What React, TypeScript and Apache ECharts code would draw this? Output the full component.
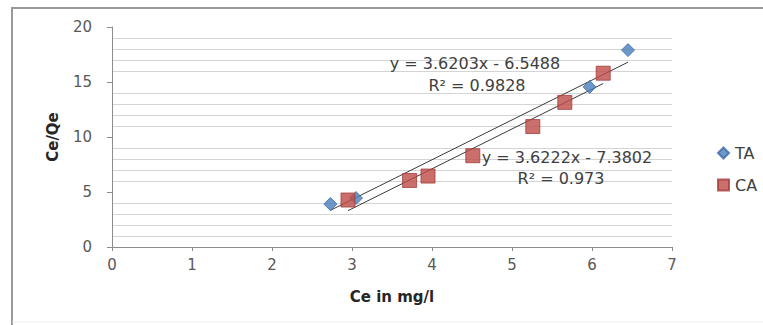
import React, { useEffect, useRef } from "react";
import * as echarts from "echarts";

// Ce (mg/l) and Ce/Qe for the two adsorbents
const taCe = [2.73, 3.05, 5.97, 6.45];
const taCeQe = [3.9, 4.45, 14.55, 17.9];
const caCe = [2.95, 3.72, 3.95, 4.51, 5.26, 5.66, 6.14];
const caCeQe = [4.27, 6.05, 6.45, 8.3, 10.95, 13.15, 15.8];

// Linear fits (slope, intercept, R²)
const taFit = { slope: 3.6203, intercept: -6.5488, r2: "0.9828" };
const caFit = { slope: 3.6222, intercept: -7.3802, r2: "0.973" };

const xTicks = [0, 1, 2, 3, 4, 5, 6, 7];
const yTicks = [0, 5, 10, 15, 20];

const FONT = "DejaVu Sans";

function fitLine(xs: number[], fit: { slope: number; intercept: number }) {
  const lo = Math.min(...xs);
  const hi = Math.max(...xs);
  return [lo, hi].map((x) => [x, fit.slope * x + fit.intercept]);
}

function fmtEq(fit: { slope: number; intercept: number }) {
  const sign = fit.intercept < 0 ? "-" : "+";
  return `y = ${fit.slope.toFixed(4)}x ${sign} ${Math.abs(fit.intercept).toFixed(4)}`;
}

export default function App() {
  const ref = useRef<HTMLDivElement>(null);

  useEffect(() => {
    if (!ref.current) return;
    const chart = echarts.init(ref.current, undefined, { renderer: "svg" });

    const eqText = (text: string, x: number, y: number) => ({
      type: "text",
      x,
      y,
      z: 1,
      style: {
        text,
        fill: "#404040",
        font: `16px "${FONT}"`,
        align: "center",
        verticalAlign: "middle",
      },
    });

    chart.setOption({
      animation: false,
      backgroundColor: "#ffffff",
      grid: { left: 112, top: 27, right: 91, bottom: 78 },
      xAxis: {
        type: "value",
        min: xTicks[0],
        max: xTicks[xTicks.length - 1],
        interval: 1,
        name: "Ce in mg/l",
        nameLocation: "middle",
        nameGap: 42,
        nameTextStyle: { fontFamily: FONT, fontSize: 15, fontWeight: "bold", color: "#262626" },
        axisLine: { show: true, onZero: false, lineStyle: { color: "#8c8c8c", width: 1 } },
        axisTick: { show: true, length: 4, lineStyle: { color: "#8c8c8c" } },
        axisLabel: { fontFamily: FONT, fontSize: 15, color: "#595959", margin: 10 },
        splitLine: { show: false },
      },
      yAxis: {
        type: "value",
        min: yTicks[0],
        max: yTicks[yTicks.length - 1],
        interval: 5,
        name: "Ce/Qe",
        nameLocation: "middle",
        nameGap: 52,
        nameRotate: 90,
        nameTextStyle: { fontFamily: FONT, fontSize: 15, fontWeight: "bold", color: "#262626" },
        axisLine: { show: true, lineStyle: { color: "#8c8c8c", width: 1 } },
        axisTick: { show: true, length: 5, lineStyle: { color: "#8c8c8c" } },
        axisLabel: { fontFamily: FONT, fontSize: 15, color: "#595959", margin: 20 },
        splitLine: { show: false },
        minorTick: { show: false, splitNumber: 5 },
        minorSplitLine: { show: true, lineStyle: { color: "#d4d4d4", width: 1 } },
      },
      legend: {
        orient: "vertical",
        left: 712,
        top: 140,
        itemGap: 16,
        itemWidth: 11,
        itemHeight: 11,
        data: ["TA", "CA"],
        textStyle: { fontFamily: FONT, fontSize: 16, color: "#404040", padding: [0, 0, 0, 1] },
      },
      series: [
        {
          name: "TA fit",
          type: "line",
          data: fitLine(taCe, taFit),
          symbol: "none",
          lineStyle: { color: "#3a3a3a", width: 1 },
          z: 3,
        },
        {
          name: "CA fit",
          type: "line",
          data: fitLine(caCe, caFit),
          symbol: "none",
          lineStyle: { color: "#3a3a3a", width: 1 },
          z: 3,
        },
        {
          name: "TA",
          type: "scatter",
          symbol: "diamond",
          symbolSize: 13,
          data: taCe.map((x, i) => [x, taCeQe[i]]),
          itemStyle: { color: "#4a7ebb", borderColor: "#3a6aa5", borderWidth: 1 },
          z: 4,
        },
        {
          name: "CA",
          type: "scatter",
          symbol: "rect",
          symbolSize: 14,
          data: caCe.map((x, i) => [x, caCeQe[i]]),
          itemStyle: { color: "#be4b48", borderColor: "#a33c39", borderWidth: 1 },
          z: 4,
        },
      ],
      graphic: [
        {
          type: "polyline",
          z: 0,
          shape: { points: [[12, 325], [12, 8], [763, 8]] },
          style: { stroke: "#9a9a9a", lineWidth: 2, fill: null },
        },
        {
          type: "line",
          z: 0,
          shape: { x1: 12, y1: 322, x2: 763, y2: 322 },
          style: { stroke: "#ececec", lineWidth: 1 },
        },
        eqText(fmtEq(taFit), 475, 63),
        eqText(`R² = ${taFit.r2}`, 477, 85),
        eqText(fmtEq(caFit), 567, 157),
        eqText(`R² = ${caFit.r2}`, 561, 178),
      ],
    });

    return () => chart.dispose();
  }, []);

  return (
    <div
      ref={ref}
      style={{ position: "fixed", left: 0, top: 0, width: 763, height: 325 }}
    />
  );
}
